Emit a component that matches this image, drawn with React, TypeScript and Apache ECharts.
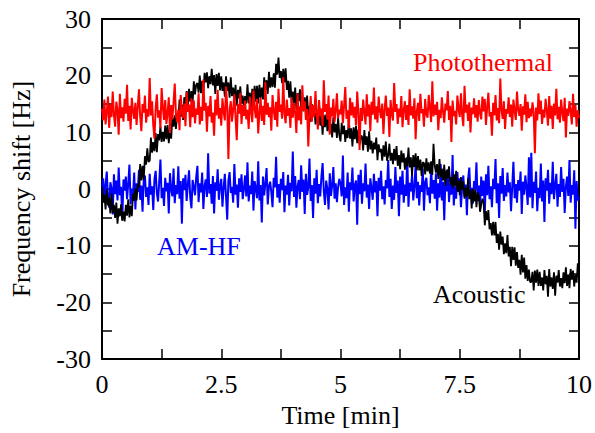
import React, { useEffect, useRef } from "react";
import * as echarts from "echarts";

// Sampling step of the recorded traces (minutes): 0 .. 10 min
const STEP_MIN = 0.025;

const X_TICK_LABELS = [0, 2.5, 5, 7.5, 10];
const Y_TICK_LABELS = [-30, -20, -10, 0, 10, 20, 30];

// Photothermal trace (Hz), two lines per minute
const photothermal = [
  14.2, 12.1, 15.8, 11.4, 13.6, 16.3, 10.8, 14.9, 12.7, 17.2, 13.1, 11.0, 15.4, 14.0, 9.6, 16.8, 12.5, 14.4, 11.9, 15.9,
  13.3, 18.4, 12.0, 14.7, 10.5, 16.1, 13.8, 12.4, 15.2, 11.3, 14.6, 17.6, 12.9, 10.2, 15.0, 13.5, 16.5, 11.7, 14.1, 12.8,
  19.6, 13.0, 15.5, 11.2, 8.9, 14.3, 16.7, 12.6, 13.9, 10.7, 17.8, 14.5, 12.2, 15.7, 11.5, 13.4, 16.2, 9.9, 14.8, 12.3,
  15.3, 18.6, 13.2, 11.8, 14.0, 10.4, 16.6, 13.7, 12.5, 15.1, 11.1, 17.1, 13.6, 14.9, 10.9, 16.0, 12.7, 15.6, 11.6, 14.2,
  13.1, 16.9, 11.4, 14.5, 12.0, 19.3, 13.8, 15.2, 10.1, 14.7, 12.8, 16.4, 11.7, 13.5, 9.4, 15.8, 13.0, 17.5, 12.4, 14.3,
  11.2, 16.0, 13.6, 12.1, 18.1, 14.6, 5.3, 13.9, 15.5, 11.9, 14.1, 16.7, 12.6, 8.6, 15.0, 13.3, 17.0, 11.5, 14.8, 12.9,
  15.6, 12.3, 14.0, 10.6, 16.3, 13.7, 11.8, 17.4, 14.2, 12.5, 15.9, 9.8, 13.4, 16.1, 12.0, 14.7, 11.3, 18.9, 13.1, 15.2,
  12.7, 14.4, 10.3, 16.6, 13.9, 12.2, 15.4, 11.0, 17.7, 13.6, 14.9, 12.4, 19.7, 13.2, 11.6, 15.8, 12.9, 14.3, 10.8, 16.2,
  12.6, 15.1, 13.5, 9.9, 16.8, 12.1, 14.6, 11.4, 18.3, 13.8, 15.5, 12.2, 14.1, 7.5, 13.0, 16.4, 11.9, 14.8, 12.7, 17.3,
  13.4, 10.5, 15.7, 12.9, 14.2, 11.1, 19.2, 13.6, 15.0, 12.3, 16.5, 9.6, 14.4, 12.8, 15.9, 11.8, 13.7, 16.9, 12.5, 14.0,
  13.2, 15.6, 11.6, 14.7, 18.0, 12.4, 13.9, 10.7, 16.1, 13.0, 15.3, 12.6, 14.5, 11.2, 17.2, 13.7, 6.9, 14.3, 12.0, 15.8,
  13.5, 11.4, 16.7, 12.8, 14.9, 10.2, 15.4, 13.1, 17.9, 12.3, 14.6, 11.7, 16.3, 13.8, 12.5, 15.1, 9.7, 14.0, 16.5, 12.9,
  14.4, 9.2, 15.7, 13.3, 12.1, 18.7, 13.6, 15.0, 11.5, 14.2, 12.7, 16.4, 10.9, 13.9, 15.5, 12.2, 14.8, 11.3, 17.6, 13.0,
  14.6, 12.4, 16.0, 8.8, 13.7, 15.2, 12.0, 16.8, 13.4, 14.1, 11.0, 15.9, 13.2, 12.6, 16.6, 14.3, 11.8, 19.0, 12.8, 14.9,
  13.1, 15.4, 10.4, 14.0, 12.5, 16.2, 13.6, 11.7, 15.1, 13.9, 17.3, 12.2, 14.7, 8.3, 15.6, 12.9, 13.8, 11.4, 16.5, 14.2,
  12.7, 16.9, 13.0, 11.1, 18.2, 13.5, 14.9, 12.0, 15.3, 10.0, 14.4, 13.2, 16.0, 12.6, 14.8, 11.9, 15.7, 13.4, 12.3, 16.3,
  13.7, 15.9, 11.3, 14.5, 17.0, 12.8, 13.6, 9.4, 15.2, 13.0, 16.6, 12.1, 14.3, 11.6, 19.5, 13.9, 12.4, 15.5, 10.6, 14.1,
  13.3, 16.2, 12.7, 14.9, 11.0, 15.8, 13.8, 12.2, 17.2, 14.0, 12.9, 15.0, 10.3, 14.6, 13.1, 16.7, 11.8, 15.4, 12.5, 14.2,
  12.8, 15.3, 13.5, 6.3, 14.4, 12.1, 16.9, 13.2, 15.6, 11.5, 14.0, 12.6, 15.9, 13.8, 11.2, 16.4, 12.4, 14.7, 10.6, 15.1,
  13.0, 17.7, 12.3, 14.5, 11.7, 15.8, 13.4, 12.0, 16.1, 9.1, 14.2, 12.9, 15.5, 13.6, 11.4, 16.8, 12.7, 14.8, 11.0, 13.9,
  12.5,
];

// AM-HF trace (Hz)
const amhf = [
  -0.6, 1.9, -2.4, 0.8, 3.1, -1.5, -3.3, 1.2, 0.2, -4.5, 2.6, -0.9, 1.5, -2.0, 3.8, -1.1, 0.4, -5.4, 1.7, -0.3,
  2.2, -1.8, 0.9, 4.3, -2.7, 0.1, -1.2, 2.9, -3.6, 1.0, -0.5, 3.4, -1.9, 0.6, -4.0, 1.6, 2.4, -1.4, 0.3, -2.8,
  2.7, -1.0, 0.5, -3.7, 1.8, 3.2, -0.7, -2.2, 1.3, 5.2, -1.6, 0.2, -3.0, 2.0, -0.4, 1.1, -4.3, 2.8, 0.0, -1.3,
  3.6, -2.5, 0.7, -0.9, 4.0, -1.7, 1.4, -6.1, 1.9, -0.2, 2.5, -2.1, 0.8, 3.3, -1.5, -3.4, 1.6, 0.4, -1.1, 2.1,
  4.1, -2.3, 1.0, -0.6, 2.9, -3.5, 0.5, 1.7, -1.4, 6.3, -0.8, 0.9, -2.6, 2.3, -4.3, 1.2, -0.3, 3.5, -1.9, 0.6,
  1.8, -3.1, 0.2, 2.7, -1.2, -5.4, 1.5, 3.0, -0.7, 0.4, -2.4, 4.4, -1.0, 0.8, -3.3, 1.9, -0.5, 2.6, -1.8, 0.0,
  2.4, -1.3, 4.7, -2.2, 0.6, -0.9, 3.1, -3.8, 1.4, 0.1, -1.6, 4.9, -2.0, 0.7, -5.9, 2.2, -1.1, 1.0, 3.7, -2.7,
  0.5, 1.3, -0.6, -3.2, 2.0, 0.3, 5.7, -1.5, 0.9, -2.4, 1.8, -0.2, 3.0, -4.1, 0.6, -1.0, 2.5, -2.9, 1.1, -0.4,
  6.6, -1.4, 2.3, -3.3, 0.5, 1.6, -1.8, 4.2, -0.5, 1.7, -4.4, 2.7, -1.0, 0.3, 5.4, -2.1, 0.7, -5.1, 1.9, -0.8,
  3.4, -2.5, 0.9, -1.3, 2.2, 4.6, -0.4, -2.8, 1.5, 0.0, -3.6, 2.8, -1.2, 0.6, 3.9, -1.7, 1.0, -2.3, 0.4, 1.8,
  0.9, -1.3, 5.9, -2.8, 0.3, -1.6, 2.9, -4.0, 1.2, -0.2, 3.8, -2.2, 0.7, 1.5, -6.3, 2.5, -0.9, 3.4, -2.6, 1.0,
  -0.4, 4.5, -1.5, 0.8, -3.5, 1.9, 0.2, -1.9, 2.7, -0.6, 1.4, -4.8, 2.0, -0.3, 3.2, -1.8, 0.5, -2.7, 1.6, 0.1,
  5.1, -1.4, 1.8, -3.5, 0.6, -1.9, 3.9, -0.7, 1.5, -4.8, 2.2, -1.0, 3.2, -2.4, 0.8, -1.2, 5.7, -3.1, 1.1, -0.4,
  2.6, -2.0, 0.4, 4.4, -1.6, 1.3, -2.9, 0.7, -0.5, 3.6, -3.8, 1.2, 2.0, -1.1, 0.3, -2.5, 4.0, -0.8, 1.6, -1.7,
  2.8, -3.8, 1.0, -1.5, 4.4, -2.0, 1.3, -5.5, 2.0, -0.4, 3.5, -2.3, 0.9, -1.0, 6.0, -2.9, 0.5, -1.7, 3.0, -0.5,
  1.9, -3.2, 0.3, 2.4, -1.4, 0.8, -4.6, 1.7, 3.8, -0.9, 0.2, -2.6, 1.4, -0.1, 4.7, -2.1, 0.6, -3.0, 2.2, -1.2,
  1.5, -4.3, 2.6, -1.1, 4.1, -1.8, 0.5, -3.2, 1.8, 0.0, 5.3, -2.5, 1.0, -5.1, 2.3, -0.8, 3.7, -2.1, 0.7, -1.3,
  2.9, -0.6, 1.2, -3.9, 0.4, 4.8, -1.6, 0.9, -2.4, 1.6, -0.3, 3.1, -4.4, 1.3, -1.0, 2.4, 0.2, -2.8, 5.6, -1.5,
  6.4, -3.4, 1.3, -0.7, 3.1, -3.9, 0.2, -1.6, 4.5, -2.2, 1.5, -5.8, 1.9, -0.3, 3.4, -2.6, 1.1, -0.9, 4.8, -1.8,
  0.6, 2.7, -3.1, 0.9, -1.4, 3.9, -0.5, 1.8, -4.2, 0.4, 2.2, -1.2, 5.1, -2.4, 0.7, -1.0, 3.3, -7.0, 1.4, -2.0,
  -1.4,
];

// Acoustic trace (Hz)
const acoustic = [
  0.4, -2.4, -1.0, -3.6, -0.1, -2.9, -1.5, -4.3, -0.8, -4.2, -2.8, -5.1, -2.4, -6.1, -3.4, -4.8, -2.7, -5.6, -4.0, -5.7,
  -2.8, -4.7, -1.8, -5.0, -2.9, -4.8, -0.8, -2.1, 0.1, -2.0, 0.9, 0.3, 4.4, 1.5, 4.1, 1.6, 5.8, 4.3, 7.2, 4.8,
  5.0, 9.1, 6.4, 8.3, 6.7, 9.9, 6.5, 9.7, 8.6, 11.1, 8.3, 10.1, 8.4, 11.2, 8.8, 11.3, 8.1, 10.7, 8.9, 12.6,
  11.0, 13.0, 10.6, 13.0, 12.0, 15.8, 12.7, 14.9, 12.2, 16.2, 14.6, 17.3, 14.8, 17.7, 15.4, 17.3, 15.2, 19.0, 16.7, 18.4,
  18.7, 17.0, 20.0, 16.9, 19.1, 16.9, 20.5, 18.8, 20.6, 17.8, 19.9, 18.5, 21.2, 18.3, 20.1, 16.8, 20.3, 18.2, 20.5, 17.4,
  19.9, 17.3, 18.8, 16.3, 19.9, 17.3, 18.8, 16.1, 19.7, 16.4, 17.9, 15.7, 18.4, 14.7, 17.5, 16.0, 18.1, 15.0, 16.5, 14.5,
  16.4, 15.1, 18.5, 15.1, 17.0, 14.0, 17.7, 15.7, 18.2, 15.4, 18.2, 15.1, 18.4, 16.1, 17.9, 15.8, 19.7, 17.4, 19.2, 16.8,
  20.7, 17.9, 19.7, 18.0, 20.4, 17.9, 22.1, 20.2, 23.2, 19.6, 20.8, 18.7, 21.2, 18.8, 21.3, 17.5, 19.1, 16.1, 19.0, 15.3,
  17.2, 15.1, 17.9, 14.1, 16.9, 15.5, 17.6, 14.4, 15.8, 13.7, 16.2, 14.0, 16.5, 12.9, 14.6, 11.9, 15.0, 12.9, 14.4, 11.4,
  13.4, 11.8, 14.9, 11.2, 12.8, 9.6, 13.1, 10.9, 13.2, 10.2, 12.7, 9.9, 11.5, 9.1, 12.7, 10.0, 11.5, 9.0, 12.6, 9.5,
  8.4, 11.7, 9.7, 11.2, 8.3, 10.4, 9.0, 12.4, 8.9, 10.7, 7.5, 10.9, 8.8, 11.1, 8.1, 10.5, 7.9, 9.4, 9.3, 6.8,
  10.4, 7.8, 9.3, 6.6, 10.2, 7.0, 8.5, 6.3, 8.2, 7.0, 9.1, 5.1, 7.9, 6.5, 7.1, 5.0, 7.7, 5.7, 8.4, 5.0,
  5.9, 8.0, 5.0, 6.4, 4.4, 7.1, 5.0, 7.6, 4.1, 6.0, 3.5, 6.8, 4.7, 6.3, 3.4, 5.5, 4.0, 7.3, 3.8, 5.6,
  2.4, 6.0, 3.9, 6.3, 3.3, 5.8, 3.3, 5.2, 2.3, 4.7, 4.6, 2.6, 5.4, 3.1, 4.7, 2.7, 4.9, 2.5, 8.0, 4.2,
  2.9, 4.4, 1.8, 5.3, 2.1, 3.6, 1.5, 4.3, 0.6, 3.4, 1.9, 4.0, 0.8, 2.1, 0.1, 2.7, 0.5, 3.2, -0.4, 1.5,
  -1.1, 2.1, -0.1, 1.3, -1.7, 0.2, -1.4, 1.9, -1.8, -0.1, -3.4, 0.0, -2.2, -0.1, -3.2, -0.6, -1.1, -4.0, -2.8, -1.7,
  -2.4, -6.4, -3.9, -5.5, -3.7, -7.1, -6.0, -8.2, -5.8, -8.2, -5.8, -9.5, -7.9, -10.7, -7.5, -9.8, -8.4, -11.5, -9.6, -11.3,
  -8.1, -11.9, -10.2, -13.6, -10.2, -12.5, -10.3, -13.5, -11.1, -13.9, -12.5, -15.1, -11.6, -14.7, -12.1, -15.8, -13.4, -16.2, -14.2, -16.4,
  -16.4, -14.6, -17.9, -14.4, -16.5, -14.2, -17.1, -14.6, -17.1, -15.6, -17.9, -14.3, -16.8, -15.3, -19.0, -14.1, -17.2, -15.6, -17.6, -14.7,
  -18.8, -15.3, -16.5, -14.3, -17.2, -15.7, -17.5, -14.7, -16.6, -13.8, -17.1, -15.1, -17.5, -14.1, -16.0, -14.4, -17.2, -15.1, -16.5, -13.1,
  -15.8,
];

const FONT = "'Liberation Serif', 'Times New Roman', serif";

function toPairs(values: number[]) {
  return values.map((v, i) => [Number((i * STEP_MIN).toFixed(3)), v]);
}

export default function App() {
  const ref = useRef<HTMLDivElement>(null);

  useEffect(() => {
    document.body.style.margin = "0";
    if (!ref.current) return;
    const chart = echarts.init(ref.current, undefined, { renderer: "svg" });

    const axisLine = { show: true, onZero: false, lineStyle: { color: "#000", width: 2 } };
    const axisTick = { show: true, inside: true, length: 10, lineStyle: { color: "#000", width: 1.5 } };

    const xLabel = (v: number) => (X_TICK_LABELS.includes(v) ? String(v) : "");
    const yLabel = (v: number) => (Y_TICK_LABELS.includes(v) ? String(v) : "");

    chart.setOption({
      animation: false,
      backgroundColor: "#fff",
      textStyle: { fontFamily: FONT },
      grid: { left: 99, top: 19, width: 484, height: 345, containLabel: false },
      xAxis: [
        {
          type: "value",
          min: 0,
          max: 10,
          interval: 1.25,
          position: "bottom",
          axisLine,
          axisTick,
          splitLine: { show: false },
          axisLabel: { formatter: xLabel, fontFamily: FONT, fontSize: 26, color: "#000", margin: 12 },
          name: "Time [min]",
          nameLocation: "middle",
          nameGap: 34,
          nameTextStyle: { fontFamily: FONT, fontSize: 26, color: "#000", verticalAlign: "top" },
        },
        {
          type: "value",
          min: 0,
          max: 10,
          interval: 1.25,
          position: "top",
          axisLine,
          axisTick,
          splitLine: { show: false },
          axisLabel: { show: false },
        },
      ],
      yAxis: [
        {
          type: "value",
          min: -30,
          max: 30,
          interval: 5,
          position: "left",
          axisLine,
          axisTick,
          splitLine: { show: false },
          axisLabel: { formatter: yLabel, fontFamily: FONT, fontSize: 26, color: "#000", margin: 11 },
          name: "Frequency shift [Hz]",
          nameLocation: "middle",
          nameGap: 68,
          nameTextStyle: { fontFamily: FONT, fontSize: 26, color: "#000" },
        },
        {
          type: "value",
          min: -30,
          max: 30,
          interval: 5,
          position: "right",
          axisLine,
          axisTick,
          splitLine: { show: false },
          axisLabel: { show: false },
        },
      ],
      series: [
        {
          name: "AM-HF",
          type: "line",
          data: toPairs(amhf),
          showSymbol: false,
          lineStyle: { color: "#0000ff", width: 2 },
          itemStyle: { color: "#0000ff" },
          z: 2,
        },
        {
          name: "Acoustic",
          type: "line",
          data: toPairs(acoustic),
          showSymbol: false,
          lineStyle: { color: "#000000", width: 1.8 },
          itemStyle: { color: "#000000" },
          z: 3,
        },
        {
          name: "Photothermal",
          type: "line",
          data: toPairs(photothermal),
          showSymbol: false,
          lineStyle: { color: "#ff0000", width: 2 },
          itemStyle: { color: "#ff0000" },
          z: 4,
        },
      ],
      graphic: [
        {
          type: "text",
          left: 413,
          top: 49,
          style: { text: "Photothermal", fill: "#ff0000", font: `26px ${FONT}` },
          z: 10,
        },
        {
          type: "text",
          left: 157,
          top: 233,
          style: { text: "AM-HF", fill: "#0000ff", font: `26px ${FONT}` },
          z: 10,
        },
        {
          type: "text",
          left: 433,
          top: 281,
          style: { text: "Acoustic", fill: "#000000", font: `26px ${FONT}` },
          z: 10,
        },
      ],
    });

    return () => chart.dispose();
  }, []);

  return <div ref={ref} style={{ width: 595, height: 433 }} />;
}
